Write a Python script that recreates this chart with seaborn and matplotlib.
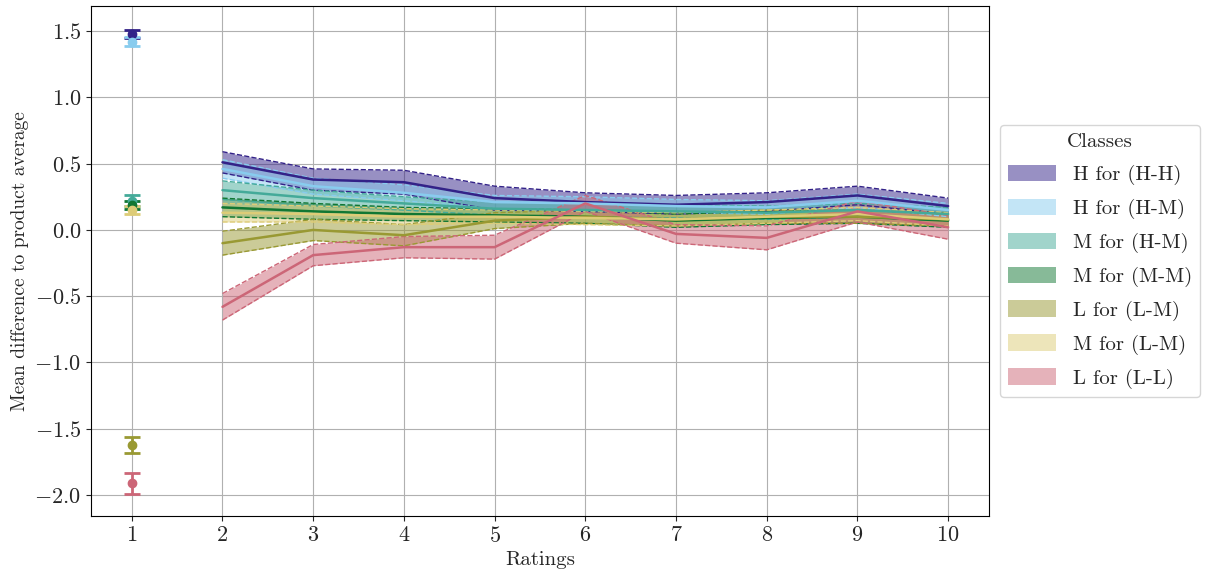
import numpy as np
import pandas as pd
import matplotlib
matplotlib.use("Agg")
import matplotlib.pyplot as plt
from matplotlib.patches import Patch
import seaborn as sns

# Classes and their colours
classes = ["H for (H-H)", "H for (H-M)", "M for (H-M)", "M for (M-M)",
           "L for (L-M)", "M for (L-M)", "L for (L-L)"]
colors = ["#332288", "#88CCEE", "#44AA99", "#117733",
          "#999933", "#DDCC77", "#CC6677"]

# Ratings 2..10: mean difference and band half-widths
ratings = [2, 3, 4, 5, 6, 7, 8, 9, 10]
mean_hh = [0.51, 0.38, 0.36, 0.24, 0.21, 0.19, 0.21, 0.26, 0.18]
band_hh = [0.08, 0.08, 0.09, 0.09, 0.07, 0.07, 0.07, 0.07, 0.06]
mean_hm = [0.46, 0.33, 0.28, 0.21, 0.20, 0.18, 0.17, 0.22, 0.15]
band_hm = [0.07, 0.06, 0.06, 0.05, 0.05, 0.05, 0.05, 0.05, 0.05]
mean_mhm = [0.30, 0.24, 0.20, 0.16, 0.15, 0.14, 0.13, 0.15, 0.12]
band_mhm = [0.07, 0.06, 0.05, 0.05, 0.05, 0.05, 0.05, 0.05, 0.05]
mean_mm = [0.17, 0.14, 0.12, 0.11, 0.10, 0.07, 0.09, 0.10, 0.07]
band_mm = [0.07, 0.06, 0.05, 0.05, 0.05, 0.05, 0.05, 0.05, 0.05]
mean_lm = [-0.10, 0.00, -0.04, 0.07, 0.10, 0.08, 0.10, 0.10, 0.08]
band_lm = [0.09, 0.08, 0.08, 0.06, 0.05, 0.05, 0.05, 0.05, 0.05]
mean_mlm = [0.13, 0.12, 0.10, 0.10, 0.09, 0.08, 0.10, 0.12, 0.08]
band_mlm = [0.07, 0.06, 0.06, 0.05, 0.05, 0.05, 0.05, 0.05, 0.05]
mean_ll = [-0.58, -0.19, -0.13, -0.13, 0.20, -0.03, -0.06, 0.14, 0.02]
band_ll = [0.10, 0.08, 0.08, 0.09, 0.06, 0.07, 0.09, 0.08, 0.09]

# Rating 1: mean and error
first_mean = [1.48, 1.42, 0.22, 0.19, -1.62, 0.15, -1.91]
first_err = [0.03, 0.035, 0.04, 0.03, 0.06, 0.03, 0.08]

means = [mean_hh, mean_hm, mean_mhm, mean_mm, mean_lm, mean_mlm, mean_ll]
bands = [band_hh, band_hm, band_mhm, band_mm, band_lm, band_mlm, band_ll]

sns.set_style("ticks")
plt.rcParams["font.family"] = ["cmr10", "DejaVu Serif"]
plt.rcParams["mathtext.fontset"] = "cm"
plt.rcParams["axes.formatter.use_mathtext"] = True
plt.rcParams["font.size"] = 15

fig = plt.figure(figsize=(12.05, 5.79), dpi=100)
ax = fig.add_axes([0.0755, 0.1088, 0.7452, 0.8808])

rows = []
for name, m in zip(classes, means):
    for r, v in zip(ratings, m):
        rows.append({"Ratings": r, "value": v, "Classes": name})
df = pd.DataFrame(rows)

for name, col, m, b in zip(classes, colors, means, bands):
    m = np.array(m)
    b = np.array(b)
    ax.fill_between(ratings, m - b, m + b, color=col, alpha=0.5, linewidth=0)
    ax.plot(ratings, m + b, color=col, linestyle="--", linewidth=1)
    ax.plot(ratings, m - b, color=col, linestyle="--", linewidth=1)

sns.lineplot(data=df, x="Ratings", y="value", hue="Classes",
             palette=dict(zip(classes, colors)), linewidth=1.8,
             legend=False, ax=ax)

for col, m, e in zip(colors, first_mean, first_err):
    ax.errorbar([1], [m], yerr=[e], fmt="o", color=col, markersize=6,
                capsize=6, capthick=2, elinewidth=2)

ax.set_xticks(range(1, 11))
ax.set_xlim(0.55, 10.45)
ax.set_ylim(-2.158, 1.689)
ax.grid(True, color="#b0b0b0", linewidth=0.8)
ax.set_axisbelow(True)
ax.set_xlabel("Ratings", fontsize=15, labelpad=4)
ax.set_ylabel("Mean difference to product average", fontsize=14)
ax.tick_params(labelsize=16)
for s in ax.spines.values():
    s.set_color("black")
    s.set_linewidth(0.8)

handles = [Patch(facecolor=c, alpha=0.5, edgecolor="none") for c in colors]
ax.legend(handles, classes, title="Classes", loc="center left",
          bbox_to_anchor=(1.012, 0.5), borderaxespad=0,
          fontsize=15, title_fontsize=15, frameon=True,
          labelspacing=0.65, handlelength=2.3, handleheight=0.82)

fig.savefig("out.png", dpi=100)
